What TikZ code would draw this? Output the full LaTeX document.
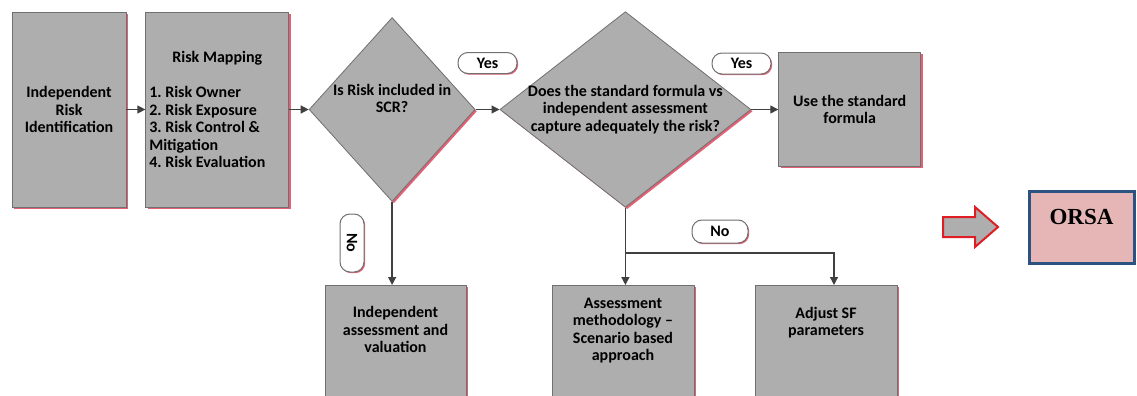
\documentclass[tikz,border=0pt]{standalone}
\usepackage{fontspec}
\setmainfont{Carlito}
\newfontfamily\orsafont{Liberation Serif}
\usetikzlibrary{positioning,shapes.geometric,shadows,arrows.meta}

\definecolor{boxgray}{RGB}{174,174,174}
\definecolor{boxedge}{RGB}{112,112,112}
\definecolor{shadowred}{RGB}{228,96,116}
\definecolor{flowline}{RGB}{64,64,64}
\definecolor{orsapink}{RGB}{230,182,182}
\definecolor{orsablue}{RGB}{44,82,130}
\definecolor{arrowred}{RGB}{222,30,36}

\tikzset{
  redshadow/.style={drop shadow={shadow xshift=0.9pt, shadow yshift=-0.9pt, fill=shadowred, opacity=1}},
  boxtext/.style={font=\bfseries\frenchspacing\fontsize{8}{8.75}\selectfont},
  stepbox/.style={rectangle, draw=boxedge, line width=0.4pt, fill=boxgray, redshadow, boxtext, align=center, inner sep=1.75pt},
  lowbox/.style={stepbox, anchor=north, minimum width=71pt, minimum height=60pt, text depth=16pt},
  decision/.style={diamond, draw=boxedge, line width=0.4pt, fill=boxgray, redshadow, boxtext, align=center, inner sep=-6pt},
  answer/.style={rectangle, rounded corners=5pt, draw=boxedge, fill=white, line width=0.5pt,
    drop shadow={shadow xshift=0.6pt, shadow yshift=-0.6pt, fill=shadowred, opacity=1},
    boxtext, minimum width=29.5pt, minimum height=10.5pt, inner sep=0pt},
  flow/.style={draw=flowline, line width=0.65pt, -{Triangle[length=4pt,width=4pt]}},
}

\begin{document}
\begin{tikzpicture}[x=0.5pt, y=-0.5pt]
  \useasboundingbox (0,0) rectangle (1137,396);
  \clip (0,0) rectangle (1137,396);

  \node[stepbox, minimum width=57pt, minimum height=97.5pt] (ident) at (69,109.5)
    {Independent\\Risk\\Identification};
  \node[stepbox, right=9.5pt of ident, minimum width=71.5pt, minimum height=97.5pt, align=left] (mapping)
    {\makebox[68pt]{Risk Mapping}\\[8.75pt]
     1. Risk Owner\\2. Risk Exposure\\3. Risk Control \&\\Mitigation\\4. Risk Evaluation};
  \node[decision, right=9.75pt of mapping, minimum width=83pt, minimum height=92pt, text depth=11pt] (inscr)
    {Is Risk included in\\SCR?};
  \node[decision, right=12pt of inscr, minimum width=125.5pt, minimum height=92.5pt] (capture)
    {Does the standard formula vs\\independent assessment\\capture adequately the risk?};
  \node[stepbox, right=13.5pt of capture, minimum width=71pt, minimum height=57pt] (usesf)
    {Use the standard\\formula};

  \node[lowbox, minimum width=70.5pt] (indep) at (395.5,285) {Independent\\assessment and\\valuation};
  \node[lowbox] (scenario) at (623,285) {Assessment\\methodology --\\Scenario based\\approach};
  \node[lowbox, text depth=24pt] (adjust) at (826,285) {Adjust SF\\parameters};

  \node[answer] (yes1) at (487.5,63) {Yes};
  \node[answer] (yes2) at (741.5,63.5) {Yes};
  \node[answer, rotate=-90, minimum width=29pt, minimum height=12pt] (no1) at (352,243) {No};
  \node[answer, minimum width=28pt, minimum height=11.5pt] (no2) at (720,231.5) {No};

  \coordinate (split) at (capture.south |- 0,253);

  \draw[flow] (ident.east) -- (mapping.west);
  \draw[flow] (mapping.east) -- (inscr.west);
  \draw[flow] (inscr.east) -- (capture.west);
  \draw[flow] (capture.east) -- (usesf.west);
  \draw[flow] (inscr.south) -- (inscr.south |- indep.north);
  \draw[flow] (capture.south) -- (capture.south |- scenario.north);
  \draw[flow] (split) -| ([xshift=4pt]adjust.north);

  \draw[arrowred, fill=boxgray, line width=1pt, line join=miter]
    (943,217) -- (975,217) -- (975,207) -- (998,227) -- (975,247) -- (975,237) -- (943,237) -- cycle;
  \node[draw=orsablue, line width=1.5pt, fill=orsapink, minimum width=52.5pt, minimum height=36pt,
    font=\orsafont\bfseries\fontsize{11.5}{13}\selectfont, text depth=10pt] (orsa) at (1081.5,227) {ORSA};
\end{tikzpicture}
\end{document}
